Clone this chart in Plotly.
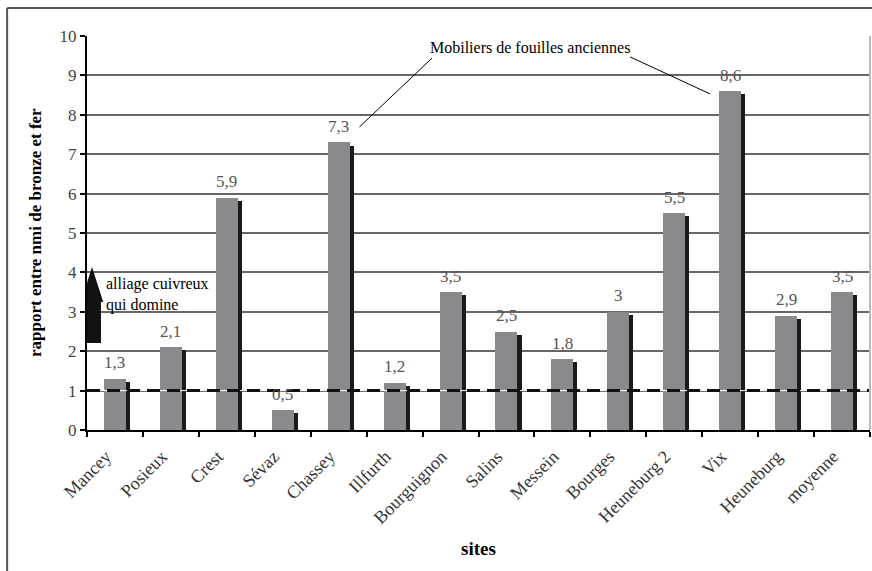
import plotly.graph_objects as go

sites = ["Mancey", "Posieux", "Crest", "Sévaz", "Chassey", "Illfurth", "Bourguignon",
         "Salins", "Messein", "Bourges", "Heuneburg 2", "Vix", "Heuneburg", "moyenne"]
ratios = [1.3, 2.1, 5.9, 0.5, 7.3, 1.2, 3.5, 2.5, 1.8, 3.0, 5.5, 8.6, 2.9, 3.5]
value_labels = ["1,3", "2,1", "5,9", "0,5", "7,3", "1,2", "3,5", "2,5", "1,8", "3", "5,5", "8,6", "2,9", "3,5"]
y_ticks = [0, 1, 2, 3, 4, 5, 6, 7, 8, 9, 10]

FONT = "Liberation Serif, Times New Roman, serif"
SHADOW_DROP = 0.08

fig = go.Figure()

# black shadow on the right side of each bar
fig.add_trace(go.Bar(
    x=sites, y=[v - SHADOW_DROP for v in ratios],
    width=0.072, offset=0.197,
    marker=dict(color="#1a1a1a", line=dict(width=0)),
    hoverinfo="skip", showlegend=False,
))
# main grey bars
fig.add_trace(go.Bar(
    x=sites, y=ratios,
    width=0.394, offset=-0.197,
    marker=dict(color="#8a8a8e", line=dict(width=0)),
    showlegend=False,
))

# value labels
for s, v, lab in zip(sites, ratios, value_labels):
    fig.add_annotation(x=s, y=v, text=lab, showarrow=False, yanchor="middle", yshift=16,
                       font=dict(family=FONT, size=17, color="#555555"))

shapes = []
# reference line at 1 (white thin + black dashed)
shapes.append(dict(type="line", xref="paper", x0=0, x1=1, yref="y", y0=1, y1=1,
                   line=dict(color="white", width=1), layer="above"))
shapes.append(dict(type="line", xref="paper", x0=0, x1=1, yref="y", y0=1, y1=1,
                   line=dict(color="#111111", width=3, dash="13px,7px"), layer="above"))
# right border of plot area
shapes.append(dict(type="line", xref="paper", x0=1, x1=1, yref="paper", y0=0, y1=1,
                   line=dict(color="#bbbbbb", width=2), layer="above"))
# outer frame (top + left)
shapes.append(dict(type="line", xref="paper", x0=-0.102, x1=1.01, yref="paper", y0=1.071, y1=1.071,
                   line=dict(color="#555555", width=2), layer="above"))
shapes.append(dict(type="line", xref="paper", x0=-0.102, x1=-0.102, yref="paper", y0=-0.4, y1=1.071,
                   line=dict(color="#555555", width=2), layer="above"))
# callout lines
shapes.append(dict(type="line", xref="x", yref="y", x0=5.67, y0=9.44, x1=4.37, y1=7.69,
                   line=dict(color="black", width=1)))
shapes.append(dict(type="line", xref="x", yref="y", x0=9.21, y0=9.47, x1=10.64, y1=8.53,
                   line=dict(color="black", width=1)))
# block arrow
shapes.append(dict(type="path", xref="x", yref="y",
                   path="M -0.41 4.14 L -0.21 3.25 L -0.25 3.25 L -0.25 2.21 L -0.56 2.21 L -0.56 3.25 L -0.61 3.25 Z",
                   fillcolor="#111111", line=dict(width=0), layer="above"))

fig.add_annotation(x=7.42, y=9.70, text="Mobiliers de fouilles anciennes", showarrow=False,
                   font=dict(family=FONT, size=16, color="black"))
fig.add_annotation(x=-0.196, y=3.45, text="alliage cuivreux<br>qui domine", showarrow=False,
                   xanchor="left", align="left", font=dict(family=FONT, size=16, color="black"))

# axis titles
fig.add_annotation(xref="paper", yref="paper", x=0, y=0.5, xshift=-52, textangle=-90,
                   xanchor="center", yanchor="middle",
                   text="<b>rapport entre nmi de bronze et fer</b>", showarrow=False,
                   font=dict(family=FONT, size=17, color="black"))
fig.add_annotation(xref="paper", yref="paper", x=0.5, y=0, yshift=-118,
                   xanchor="center", yanchor="middle",
                   text="<b>sites</b>", showarrow=False,
                   font=dict(family=FONT, size=19, color="black"))

fig.update_layout(
    width=872, height=571,
    margin=dict(l=87, r=2, t=36, b=141),
    paper_bgcolor="white", plot_bgcolor="white",
    barmode="overlay", bargap=0,
    shapes=shapes,
    xaxis=dict(type="category", range=[-0.5, 13.5], tickangle=-45,
               tickfont=dict(family=FONT, size=18, color="#333333"),
               ticklabelshift=-9, ticklabelstandoff=7,
               showline=True, linecolor="black", linewidth=2,
               ticks="outside", ticklen=5, tickcolor="black", tickwidth=1.5,
               tickson="boundaries", showgrid=False, fixedrange=True, automargin=False),
    yaxis=dict(range=[0, 10], tickvals=y_ticks,
               tickfont=dict(family=FONT, size=17, color="#444444"),
               showline=True, linecolor="black", linewidth=2,
               ticks="outside", ticklen=5, tickcolor="black", tickwidth=1.5,
               showgrid=True, gridcolor="#666666", gridwidth=1.5,
               zeroline=False, fixedrange=True, automargin=False),
)

fig.write_html("out.html", config={"displayModeBar": False},
               post_script="document.body.style.margin='0';document.body.style.padding='0';")
